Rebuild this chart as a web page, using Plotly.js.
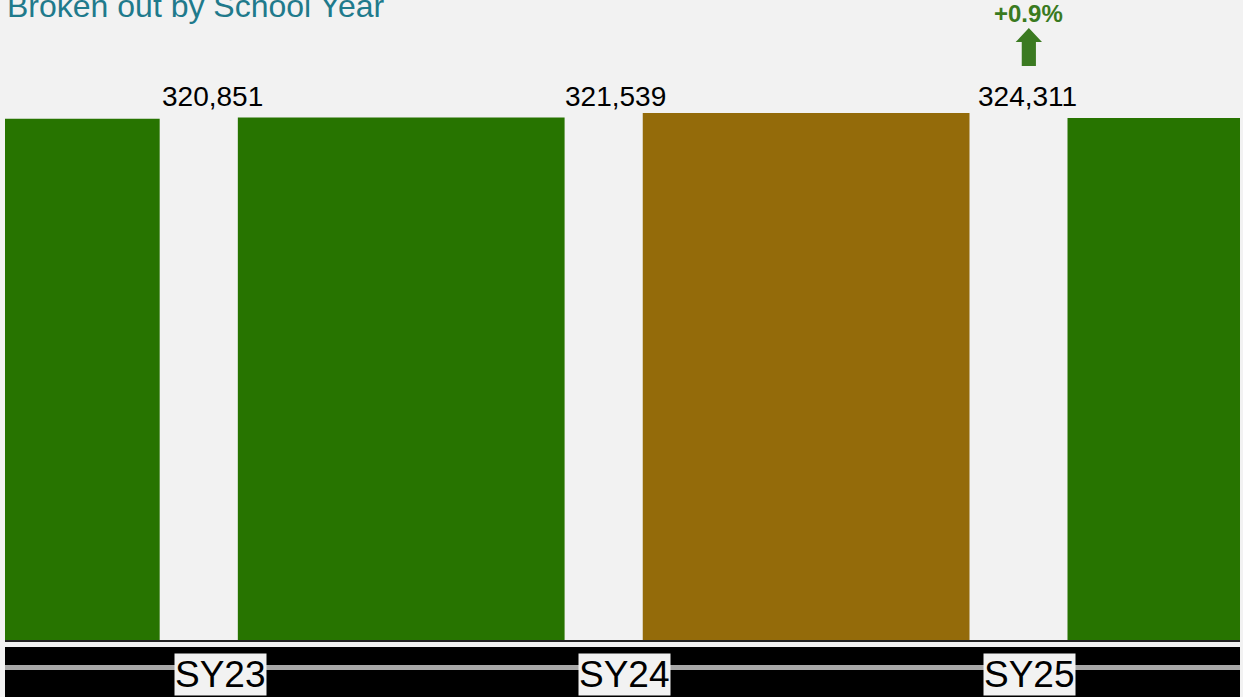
<!DOCTYPE html>
<html>
<head>
<meta charset="utf-8">
<script src="https://cdn.plot.ly/plotly-3.0.1.min.js"></script>
<style>html,body{margin:0;padding:0;background:#F2F2F2;}#chart{width:1243px;height:697px;}</style>
</head>
<body>
<div id="chart"></div>
<script>
// ---- data ----
const categories = ['SY23', 'SY24', 'SY25', ' '];
const axisLabels = ['SY23', 'SY24', 'SY25'];
const enrollment = [320851, 321539, 324311, 321200];
const valueLabels = ['320,851', '321,539', '324,311'];
const changeText = '+0.9%';
const titleText = 'Broken out by School Year';

// ---- styles ----
const green = '#277400';
const gold = '#946B0A';
const barColors = [green, green, gold, green];
const barOffsets = [-0.956, -0.956, -0.956, -0.907];
const labelShifts = [-8, -9, -2];

const H = 697, T = 60, B = 57;
const plotH = H - T - B;
const py = px => (H - B - px) / plotH; // pixel row -> paper y

const trace = {
  type: 'bar',
  x: categories,
  y: enrollment,
  marker: {color: barColors, line: {width: 0}},
  width: 0.807,
  offset: barOffsets,
  hoverinfo: 'skip'
};

const annotations = [];
axisLabels.forEach((c, i) => {
  annotations.push({
    x: c, xref: 'x', y: py(97), yref: 'paper', yanchor: 'middle', xanchor: 'center',
    xshift: labelShifts[i],
    text: valueLabels[i], showarrow: false,
    font: {family: 'Liberation Sans, Arial', size: 28, color: '#000'}
  });
  annotations.push({
    x: c, xref: 'x', y: py(674), yref: 'paper', yanchor: 'middle', xanchor: 'center',
    text: c, showarrow: false, bgcolor: '#F2F2F2', borderpad: 0,
    font: {family: 'Liberation Sans, Arial', size: 37, color: '#000'}
  });
});
annotations.push({
  x: 'SY25', xref: 'x', y: py(14), yref: 'paper', yanchor: 'middle', xanchor: 'center',
  xshift: -1,
  text: '<b>' + changeText + '</b>', showarrow: false,
  font: {family: 'Liberation Sans, Arial', size: 24, color: '#3A7A1F'}
});
annotations.push({
  x: 0, xref: 'paper', xanchor: 'left', y: py(26), yref: 'paper', yanchor: 'bottom',
  text: titleText, showarrow: false,
  font: {family: 'Liberation Sans, Arial', size: 32, color: '#1F7A8C'}
});

const shapes = [
  {type: 'rect', xref: 'paper', yref: 'paper', x0: 0, x1: 1, y0: py(697), y1: py(647),
   fillcolor: '#000', line: {width: 0}, layer: 'below'},
  {type: 'rect', xref: 'paper', yref: 'paper', x0: 0, x1: 1, y0: py(670), y1: py(665),
   fillcolor: '#A8A8A8', line: {width: 0}, layer: 'below'},
  {type: 'path', xref: 'x', yref: 'paper',
   path: 'M 1.980 ' + py(66) + ' L 2.015 ' + py(66) + ' L 2.015 ' + py(42) + ' L 2.030 ' + py(42) +
         ' L 1.9975 ' + py(28) + ' L 1.965 ' + py(42) + ' L 1.980 ' + py(42) + ' Z',
   fillcolor: '#3B7A21', line: {width: 0}}
];

const layout = {
  width: 1243, height: 697,
  margin: {l: 5, r: 3, t: T, b: B, pad: 0},
  paper_bgcolor: '#F2F2F2', plot_bgcolor: '#F2F2F2',
  showlegend: false,
  xaxis: {
    type: 'category', categoryorder: 'array', categoryarray: categories,
    range: [-0.531, 2.519], showticklabels: false, showgrid: false, zeroline: false,
    showline: true, linecolor: '#222', linewidth: 2, ticks: ''
  },
  yaxis: {range: [0, 356930], visible: false, showgrid: false, zeroline: false},
  annotations: annotations,
  shapes: shapes
};

Plotly.newPlot('chart', [trace], layout, {displayModeBar: false, staticPlot: true});
</script>
</body>
</html>
